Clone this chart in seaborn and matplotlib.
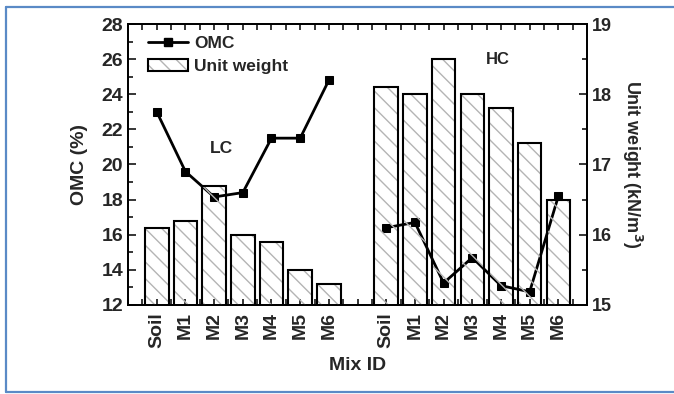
import numpy as np
import pandas as pd
import matplotlib
matplotlib.use("Agg")
import matplotlib.pyplot as plt
from matplotlib.lines import Line2D
from matplotlib.patches import Patch
from matplotlib.legend_handler import HandlerTuple
from matplotlib.ticker import MultipleLocator
import seaborn as sns

# Mix labels and the two soil groups
mixes = ["Soil", "M1", "M2", "M3", "M4", "M5", "M6"]
lc_pos = [1, 2, 3, 4, 5, 6, 7]
hc_pos = [9, 10, 11, 12, 13, 14, 15]

# Optimum moisture content (%)
omc_lc = [23.0, 19.6, 18.15, 18.4, 21.5, 21.5, 24.8]
omc_hc = [16.4, 16.7, 13.25, 14.7, 13.1, 12.75, 18.2]

# Maximum dry unit weight (kN/m^3)
uw_lc = [16.1, 16.2, 16.7, 16.0, 15.9, 15.5, 15.3]
uw_hc = [18.1, 18.0, 18.5, 18.0, 17.8, 17.3, 16.5]

sns.set_style("ticks")
plt.rcParams["font.family"] = ["Liberation Sans", "DejaVu Sans"]
plt.rcParams["font.weight"] = "bold"
plt.rcParams["axes.labelweight"] = "bold"
plt.rcParams["hatch.linewidth"] = 1.0

uw_df = pd.DataFrame({"pos": lc_pos + hc_pos, "uw": uw_lc + uw_hc})
lc_df = pd.DataFrame({"pos": lc_pos, "omc": omc_lc})
hc_df = pd.DataFrame({"pos": hc_pos, "omc": omc_hc})

fig = plt.figure(figsize=(6.74, 3.94), dpi=100)
ax = fig.add_axes([0.19, 0.226, 0.681, 0.713])
ax2 = ax.twinx()

# OMC curves on the left axis
for d in (lc_df, hc_df):
    sns.lineplot(data=d, x="pos", y="omc", ax=ax, color="black",
                 marker="s", markersize=6, linewidth=2.0,
                 markeredgecolor="black", sort=False)

# Unit weight bars on the right axis: grey hatching, then black outlines
sns.barplot(data=uw_df, x="pos", y="uw", ax=ax2, native_scale=True,
            width=0.82, fill=False, color="#b4b4b4", hatch="\\\\",
            linewidth=0, errorbar=None)
sns.barplot(data=uw_df, x="pos", y="uw", ax=ax2, native_scale=True,
            width=0.82, fill=False, color="black", linewidth=1.5,
            errorbar=None)

ax.set_xlim(0, 16)
ax.set_ylim(12, 28)
ax2.set_ylim(15, 19)

ax.yaxis.set_major_locator(MultipleLocator(2))
ax.yaxis.set_minor_locator(MultipleLocator(1))
ax2.yaxis.set_major_locator(MultipleLocator(1))
ax2.yaxis.set_minor_locator(MultipleLocator(0.5))

ax.set_xticks(lc_pos + hc_pos)
ax.set_xticklabels(mixes + mixes, rotation=90, fontsize=14, fontweight="bold")
ax.set_xticks(np.arange(0, 16.5, 0.5), minor=True)

ax.tick_params(axis="both", which="both", direction="in", width=1.3,
               top=True, labelsize=14)
ax.tick_params(axis="y", which="major", length=6)
ax.tick_params(axis="y", which="minor", length=3.5)
ax.tick_params(axis="x", which="both", length=4, pad=5)
ax2.tick_params(axis="y", which="both", direction="in", width=1.3, labelsize=13)
ax2.tick_params(axis="y", which="major", length=6)
ax2.tick_params(axis="y", which="minor", length=3.5)
for lab in ax.get_yticklabels() + ax2.get_yticklabels() + ax.get_xticklabels():
    lab.set_fontweight("bold")

for a in (ax, ax2):
    for s in a.spines.values():
        s.set_linewidth(1.3)
        s.set_color("black")

ax.set_xlabel("Mix ID", fontsize=14, fontweight="bold", labelpad=7)
ax.set_ylabel("OMC (%)", fontsize=14, fontweight="bold", labelpad=10)
ax2.set_ylabel("Unit weight (kN/m$^\\mathbf{3}$)", fontsize=13,
               fontweight="bold", rotation=-90, labelpad=23)

ax.text(3.24, 20.9, "LC", fontsize=12.5, fontweight="bold",
        ha="center", va="center")
ax.text(12.88, 26.0, "HC", fontsize=12, fontweight="bold",
        ha="center", va="center")

omc_handle = Line2D([], [], color="black", marker="s", markersize=6,
                    linewidth=2.0)
uw_handle = (Patch(facecolor="white", edgecolor="#b4b4b4", hatch="\\\\",
                   linewidth=0),
             Patch(facecolor="none", edgecolor="black", linewidth=1.5))
ax2.legend([omc_handle, uw_handle], ["OMC", "Unit weight"],
           handler_map={tuple: HandlerTuple(ndivide=1)},
           loc="upper left", bbox_to_anchor=(0.035, 0.971), frameon=False,
           prop={"size": 12.5, "weight": "bold"}, handlelength=2.3,
           handletextpad=0.4, labelspacing=0.47, borderaxespad=0,
           borderpad=0.2)

# Blue frame along the left, top and bottom of the figure
frame_kw = dict(color="#5a8ac6", linewidth=1.6, transform=fig.transFigure)
fig.add_artist(Line2D([6 / 674, 6 / 674], [1 - 7 / 394, 1 - 392 / 394], **frame_kw))
fig.add_artist(Line2D([6 / 674, 1.0], [1 - 7 / 394, 1 - 7 / 394], **frame_kw))
fig.add_artist(Line2D([6 / 674, 1.0], [1 - 392 / 394, 1 - 392 / 394], **frame_kw))

fig.savefig("out.png", dpi=100)
